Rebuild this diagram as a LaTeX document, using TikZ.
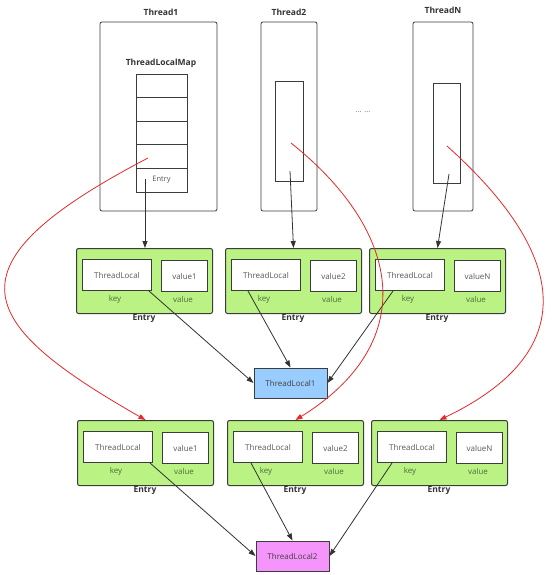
\documentclass[tikz,border=0pt]{standalone}
\usepackage{fontspec}
\setmainfont{Open Sans}
\usepackage{tikz}
\usetikzlibrary{arrows.meta,positioning}
\definecolor{entrygreen}{RGB}{186,242,132}
\definecolor{tlblue}{RGB}{153,204,255}
\definecolor{tlpink}{RGB}{245,148,250}
\definecolor{boxgray}{RGB}{60,60,60}
\definecolor{keygreen}{RGB}{80,110,60}
\definecolor{linkred}{RGB}{232,40,40}
\tikzset
{
    threadbox/.style = {rectangle, rounded corners=2pt, draw=boxgray, thick, minimum width=#1, minimum height=189pt, inner sep=0pt},
    innerbox/.style  = {rectangle, draw=boxgray, thick, minimum width=#1, minimum height=100pt, inner sep=0pt},
    cellbox/.style   = {rectangle, draw=boxgray, thick, minimum width=51pt, minimum height=23.6pt, inner sep=0pt, font=\fontsize{7.5}{9}\selectfont, text=black!65},
    entrybox/.style  = {rectangle, rounded corners=2pt, draw=boxgray, line width=1pt, fill=entrygreen, minimum width=136pt, minimum height=65pt, inner sep=0pt, anchor=north west},
    keybox/.style    = {rectangle, draw=boxgray, line width=1pt, fill=white, minimum height=31pt, inner sep=0pt, anchor=north west, font=\fontsize{8}{9}\selectfont, text=black!65},
    smalltext/.style = {font=\fontsize{8}{9}\selectfont, text=keygreen, inner sep=0pt},
    titletext/.style = {font=\fontsize{8.5}{10}\selectfont\bfseries, text=black!80, inner sep=0pt},
    tlbox/.style     = {rectangle, draw=boxgray, line width=1pt, minimum width=73pt, minimum height=30pt, inner sep=0pt, font=\fontsize{8}{9}\selectfont, text=black!75},
    blackarrow/.style= {-{Triangle[length=7pt,width=5pt]}, draw=black!80, thick},
    redarrow/.style  = {-{Triangle[length=7pt,width=5pt]}, draw=linkred, thick}
}
% name, left, top, value text
\newcommand{\entrynode}[4]{
\node (#1)  [entrybox]                      at (#2,#3)        {};
\node (#1k) [keybox, minimum width=69pt]    at (#2+6,#3+11)   {ThreadLocal};
\node (#1v) [keybox, minimum width=46pt]    at (#2+85,#3+12)  {#4};
\node (#1kl)[smalltext]                     at (#2+39,#3+51)  {key};
\node (#1vl)[smalltext]                     at (#2+107,#3+51) {value};
\node (#1l) [titletext, anchor=north]       at (#2+68,#3+66)  {Entry};
}

\begin{document}
\begin{tikzpicture}[x=1pt, y=-1pt]
\useasboundingbox[fill=white] (0,0) rectangle (554,575);

\node (t1)		[threadbox=117pt] 		at (158.5,116.5) 	{};
\node (t2)		[threadbox=56pt] 		at (289,116.5) 		{};
\node (tn)		[threadbox=60pt] 		at (443,116.5) 		{};
\node (t1l)		[titletext] 			at (161,12) 		{Thread1};
\node (t2l)		[titletext] 			at (289,12) 		{Thread2};
\node (tnl)		[titletext] 			at (443,10) 		{ThreadN};
\node (mapl)	[titletext] 			at (161,63) 		{ThreadLocalMap};
\foreach \i in {1,...,4}
	\node (m\i) [cellbox] at (161.5,{74+23.6*(\i-0.5)}) {};
\node (m5)		[cellbox] 				at (161.5,{74+23.6*4.5}) {Entry};
\node (in2)		[innerbox=28pt] 		at (289,131) 		{};
\node (inn)		[innerbox=27pt] 		at (446.5,133) 		{};
\node (dots)	[font=\fontsize{7.5}{9}\selectfont, text=black!60] at (363,112) {... ...};

\coordinate (s1) at (145,179);
\coordinate (s2) at (290,171);
\coordinate (sn) at (449,174);
\coordinate (r1) at (148,158);
\coordinate (r2) at (291,143);
\coordinate (rn) at (447,146);

\entrynode{ea}{76}{248}{value1}
\entrynode{eb}{225}{248}{value2}
\entrynode{ec}{369}{248}{valueN}
\entrynode{fa}{77}{420}{value1}
\entrynode{fb}{227}{420}{value2}
\entrynode{fc}{371}{420}{valueN}

\node (tl1)	[tlbox, fill=tlblue] 		at (290.5,383) 		{ThreadLocal1};
\node (tl2)	[tlbox, fill=tlpink] 		at (292.5,556) 		{ThreadLocal2};

\path
(s1) 		edge[blackarrow] 			(ea.north -| s1)
(s2) 		edge[blackarrow] 			(eb.north)
(sn) 		edge[blackarrow] 			(ec.north)
(eak.south east) ++(-3,0) edge[blackarrow] (tl1.west)
(ebk.south west) ++(17,0) edge[blackarrow] (tl1.north)
(eck.south west) ++(18,0) edge[blackarrow] (tl1.east)
(fak.south east) ++(-3,0) edge[blackarrow] (tl2.west)
(fbk.south west) ++(18,0) edge[blackarrow] (tl2.north)
(fck.south west) ++(15,0) edge[blackarrow] (tl2.east);

%% red links
\draw[redarrow] (r1) .. controls (-59,266) and (-24,323) .. (fa.north);
\draw[redarrow] (r2) .. controls (405,234) and (418,344) .. (fb.north);
\draw[redarrow] (rn) .. controls (572,258) and (579,353) .. (fc.north);
\end{tikzpicture}
\end{document}
